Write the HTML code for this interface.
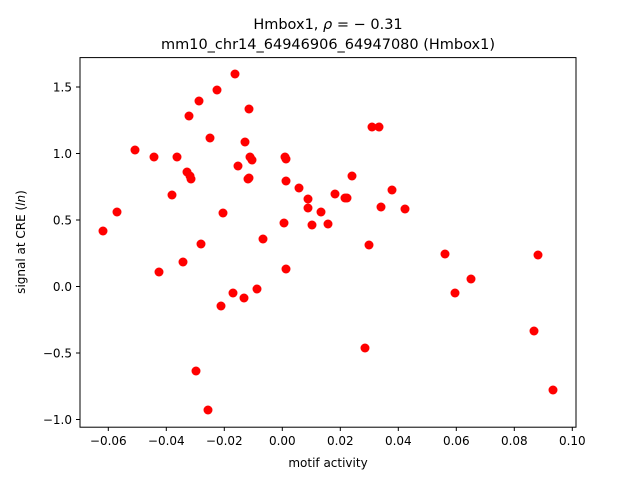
<!DOCTYPE html><html><head><style>body{margin:0;background:#fff}</style></head><body>
<svg width="640" height="480" xmlns="http://www.w3.org/2000/svg" font-family="DejaVu Sans, Liberation Sans, sans-serif">
<rect width="640" height="480" fill="#fff"/>
<text x="328" y="29" font-size="14.5" text-anchor="middle">Hmbox1, <tspan font-style="italic">ρ</tspan> = − 0.31</text>
<text x="328" y="49" font-size="14.5" text-anchor="middle">mm10_chr14_64946906_64947080 (Hmbox1)</text>
<g fill="red">
<circle cx="103" cy="231" r="4.5"/><circle cx="117" cy="212" r="4.5"/><circle cx="135" cy="150" r="4.5"/><circle cx="154" cy="157" r="4.5"/><circle cx="159" cy="272" r="4.5"/><circle cx="172" cy="195" r="4.5"/><circle cx="177" cy="157" r="4.5"/><circle cx="183" cy="262" r="4.5"/><circle cx="187" cy="172" r="4.5"/><circle cx="189" cy="116" r="4.5"/><circle cx="190" cy="176" r="4.5"/><circle cx="191" cy="179" r="4.5"/><circle cx="196" cy="371" r="4.5"/><circle cx="199" cy="101" r="4.5"/><circle cx="201" cy="244" r="4.5"/><circle cx="208" cy="410" r="4.5"/><circle cx="210" cy="138" r="4.5"/><circle cx="217" cy="90" r="4.5"/><circle cx="221" cy="306" r="4.5"/><circle cx="223" cy="213" r="4.5"/><circle cx="233" cy="293" r="4.5"/><circle cx="235" cy="74" r="4.5"/><circle cx="238" cy="166" r="4.5"/><circle cx="244" cy="298" r="4.5"/><circle cx="245" cy="142" r="4.5"/><circle cx="248" cy="179" r="4.5"/><circle cx="249" cy="109" r="4.5"/><circle cx="249" cy="178" r="4.5"/><circle cx="250" cy="157" r="4.5"/><circle cx="252" cy="160" r="4.5"/><circle cx="257" cy="289" r="4.5"/><circle cx="263" cy="239" r="4.5"/><circle cx="284" cy="223" r="4.5"/><circle cx="285" cy="157" r="4.5"/><circle cx="286" cy="159" r="4.5"/><circle cx="286" cy="181" r="4.5"/><circle cx="286" cy="269" r="4.5"/><circle cx="299" cy="188" r="4.5"/><circle cx="308" cy="199" r="4.5"/><circle cx="308" cy="208" r="4.5"/><circle cx="312" cy="225" r="4.5"/><circle cx="321" cy="212" r="4.5"/><circle cx="328" cy="224" r="4.5"/><circle cx="335" cy="194" r="4.5"/><circle cx="345" cy="198" r="4.5"/><circle cx="347" cy="198" r="4.5"/><circle cx="352" cy="176" r="4.5"/><circle cx="365" cy="348" r="4.5"/><circle cx="369" cy="245" r="4.5"/><circle cx="372" cy="127" r="4.5"/><circle cx="379" cy="127" r="4.5"/><circle cx="381" cy="207" r="4.5"/><circle cx="392" cy="190" r="4.5"/><circle cx="405" cy="209" r="4.5"/><circle cx="445" cy="254" r="4.5"/><circle cx="455" cy="293" r="4.5"/><circle cx="471" cy="279" r="4.5"/><circle cx="534" cy="331" r="4.5"/><circle cx="538" cy="255" r="4.5"/><circle cx="553" cy="390" r="4.5"/>
</g>
<rect x="80" y="57.6" width="496" height="369.6" fill="none" stroke="#000" stroke-width="1"/>
<g stroke="#000" stroke-width="1">
<path d="M108.3 427v4M166.3 427v4M224.3 427v4M282.3 427v4M340.3 427v4M398.3 427v4M456.3 427v4M514.3 427v4M572.3 427v4"/>
<path d="M80 87h-4M80 153.5h-4M80 220h-4M80 286.5h-4M80 353h-4M80 419.5h-4"/>
</g>
<g font-size="12" text-anchor="middle">
<text x="108.3" y="445">−0.06</text><text x="166.3" y="445">−0.04</text><text x="224.3" y="445">−0.02</text><text x="282.3" y="445">0.00</text><text x="340.3" y="445">0.02</text><text x="398.3" y="445">0.04</text><text x="456.3" y="445">0.06</text><text x="514.3" y="445">0.08</text><text x="572.3" y="445">0.10</text>
<text x="328" y="467">motif activity</text>
</g>
<g font-size="12" text-anchor="end">
<text x="72" y="91.5">1.5</text><text x="72" y="158">1.0</text><text x="72" y="224.5">0.5</text><text x="72" y="291">0.0</text><text x="72" y="357.5">−0.5</text><text x="72" y="424">−1.0</text>
</g>
<text transform="translate(25,242) rotate(-90)" font-size="12" text-anchor="middle">signal at CRE (<tspan font-style="italic">ln</tspan>)</text>
</svg>
</body></html>
